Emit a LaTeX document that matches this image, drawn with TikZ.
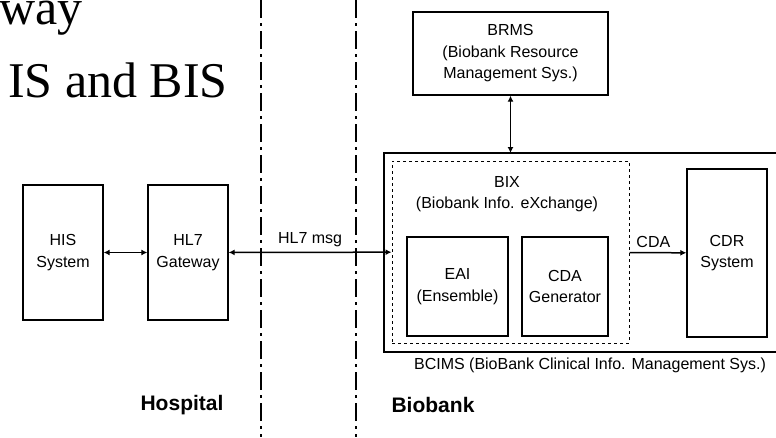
\documentclass[tikz,border=0pt]{standalone}
\usepackage{fontspec}
\setmainfont{Liberation Serif}
\setsansfont{Liberation Sans}
\usetikzlibrary{arrows.meta}

\begin{document}
\begin{tikzpicture}[x=1pt,y=-1pt,
  box/.style={draw, line width=1.3pt, align=center, font=\sffamily\fontsize{16}{21.5}\selectfont},
  lbl/.style={font=\sffamily\fontsize{16}{21.5}\selectfont},
  side/.style={font=\sffamily\bfseries\fontsize{21}{24}\selectfont},
  border/.style={line width=1.5pt, dash pattern=on 18pt off 5pt on 3pt off 5pt},
  link/.style={line width=1.5pt, {Latex[length=6pt,width=6pt]}-{Latex[length=6pt,width=6pt]}},
  onelink/.style={line width=1.5pt, -{Latex[length=6pt,width=6pt]}}]
\useasboundingbox (0,0) rectangle (776,437);
\clip (0,0) rectangle (776,437);

\node[anchor=base west, font=\fontsize{50}{50}\selectfont, inner sep=0pt] (way) at (-1,24) {way};
\node[anchor=base west, font=\fontsize{50}{50}\selectfont, inner sep=0pt] (title) at (8,97) {IS and BIS};

\draw[border] (261,0) -- (261,437);
\draw[border] (356,0) -- (356,437);

\node[box, minimum width=80pt, minimum height=135pt] (his) at (63,252.5) {HIS\\System};
\node[box, minimum width=80pt, minimum height=135pt] (gw) at (188,252.5) {HL7\\Gateway};

\draw[line width=2pt] (790,153) -- (384,153) -- (384,352) -- (790,352);
\coordinate (bcims) at (587,153);
\node[lbl] (bcimslbl) at (590,365) {BCIMS (BioBank Clinical Info. Management Sys.)};

\node[box, dashed, line width=1pt, minimum width=237pt, minimum height=182pt] (bix) at (510.5,252) {};
\node[lbl, align=center] (bixlbl) at (507,194) {BIX\\(Biobank Info. eXchange)};
\node[box, minimum width=101pt, minimum height=99pt] (eai) at (457.5,286.5) {EAI\\(Ensemble)};
\node[box, minimum width=86pt, minimum height=99pt] (gen) at (565,286.5) {CDA\\Generator};
\node[box, minimum width=80pt, minimum height=168pt] (cdr) at (727,253) {CDR\\System};

\node[box, minimum width=195pt, minimum height=83pt] (brms) at (510.5,53.5) {BRMS\\(Biobank Resource\\Management Sys.)};

\draw[link] (his) -- (gw);
\draw[link] (gw) -- (bix) node[lbl, pos=0.5, above=1pt] (msg) {HL7 msg};
\draw[onelink] (bix) -- (cdr) node[lbl, pos=0.42, above=1pt] (cda) {CDA};
\draw[link] (brms.south) -- (brms.south |- bcims);

\node[side] (hosp) at (182,405) {Hospital};
\node[side] (bio) at (433,405) {Biobank};

\end{tikzpicture}
\end{document}
